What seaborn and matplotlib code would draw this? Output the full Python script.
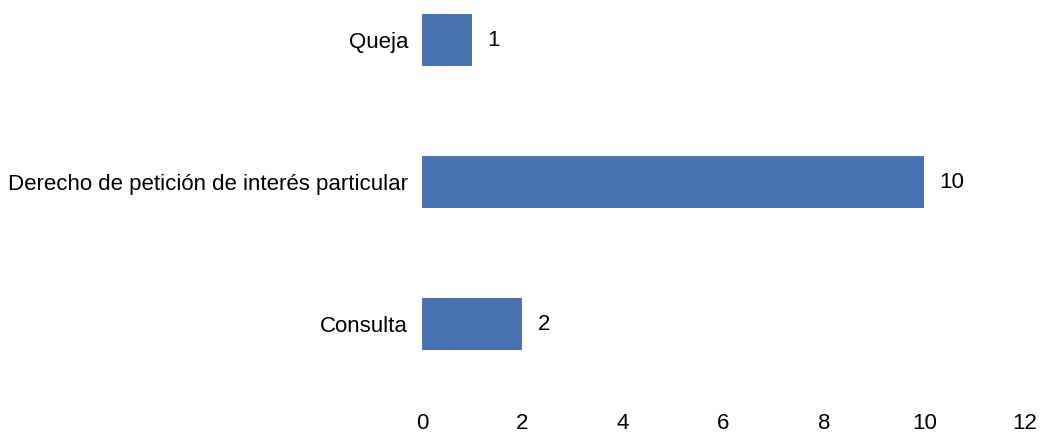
import pandas as pd
import matplotlib.pyplot as plt
import seaborn as sns

categorias = ["Queja", "Derecho de petición de interés particular", "Consulta"]
valores = [1, 10, 2]
ticks_x = [0, 2, 4, 6, 8, 10, 12]

df = pd.DataFrame({"Tipo": categorias, "Cantidad": valores})

sns.set_theme(style="white")
plt.rcParams["font.family"] = ["Liberation Sans", "DejaVu Sans"]

fig = plt.figure(figsize=(10.43, 4.32), dpi=100)
ax = fig.add_axes([0.4046, 0.074, 0.578, 0.926])

sns.barplot(data=df, x="Cantidad", y="Tipo", color="#4a72b2", saturation=1,
            width=0.36, linewidth=0, ax=ax)

for i, v in enumerate(valores):
    ax.annotate(str(v), xy=(v, i), xytext=(11, 0), textcoords="offset points",
                va="center", ha="left", fontsize=16, color="black")

ax.set_xlim(0, 12)
ax.set_ylim(2.535, -0.282)
ax.set_xticks(ticks_x)
ax.set_xticklabels([str(t) for t in ticks_x])
ax.set_xlabel("")
ax.set_ylabel("")
ax.tick_params(axis="both", length=0, labelsize=16, colors="black")
ax.tick_params(axis="x", pad=9)
ax.tick_params(axis="y", pad=10)
sns.despine(ax=ax, left=True, bottom=True)

fig.savefig("out.png", dpi=100)
